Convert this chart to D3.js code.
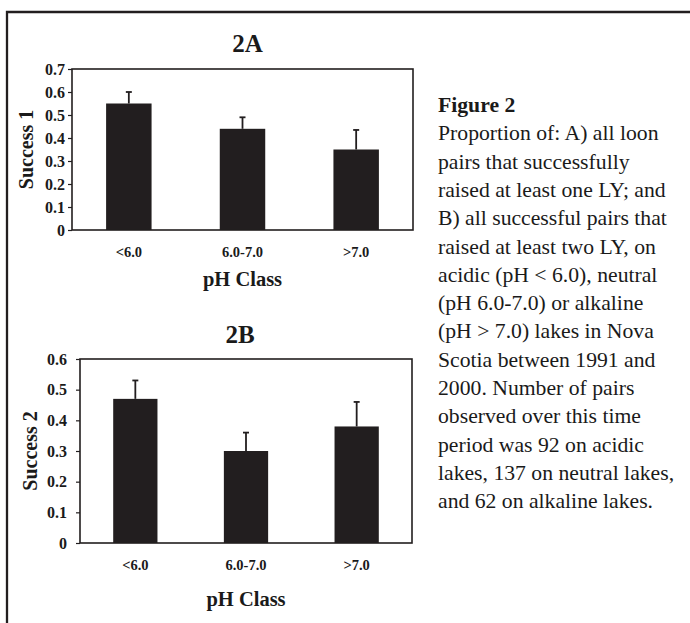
<!DOCTYPE html>
<html>
<head>
<meta charset="utf-8">
<script src="https://cdn.jsdelivr.net/npm/d3@7"></script>
<style>
  html, body { margin: 0; padding: 0; background: #fff; }
  svg { display: block; }
  text { font-family: "Liberation Serif", "Times New Roman", serif; fill: #1a1a1a; }
</style>
</head>
<body>
<svg id="fig" width="690" height="623"></svg>
<script>
// pH classes on the x axis
const categories = ["<6.0", "6.0-7.0", ">7.0"];

// 2A: proportion of pairs raising at least one LY
const success1 = [0.55, 0.44, 0.35];
const error1 = [0.05, 0.05, 0.085];
const ticks1 = [0, 0.1, 0.2, 0.3, 0.4, 0.5, 0.6, 0.7];

// 2B: proportion of successful pairs raising at least two LY
const success2 = [0.47, 0.30, 0.38];
const error2 = [0.06, 0.06, 0.08];
const ticks2 = [0, 0.1, 0.2, 0.3, 0.4, 0.5, 0.6];

const captionTitle = "Figure 2";
const captionLines = [
  "Proportion of: A) all loon",
  "pairs that successfully",
  "raised at least one LY; and",
  "B) all successful pairs that",
  "raised at least two LY, on",
  "acidic (pH < 6.0), neutral",
  "(pH 6.0-7.0) or alkaline",
  "(pH > 7.0) lakes in Nova",
  "Scotia between 1991 and",
  "2000. Number of pairs",
  "observed over this time",
  "period was 92 on acidic",
  "lakes, 137 on neutral lakes,",
  "and 62 on alkaline lakes."
];

const svg = d3.select("#fig");
const ink = "#221e1f";

// outer frame (only top and left edges visible)
svg.append("path")
  .attr("d", "M7,623 V12 H690")
  .attr("fill", "none")
  .attr("stroke", ink)
  .attr("stroke-width", 2.3);

function drawPanel(p) {
  const g = svg.append("g");

  const x = d3.scaleBand()
    .domain(categories)
    .range([p.left, p.right])
    .paddingInner(0.6)
    .paddingOuter(0.3);

  const y = d3.scaleLinear()
    .domain([0, d3.max(p.ticks)])
    .range([p.bottom, p.top]);

  // bars
  g.selectAll("rect.bar")
    .data(p.values)
    .join("rect")
    .attr("class", "bar")
    .attr("x", (d, i) => x(categories[i]))
    .attr("width", x.bandwidth())
    .attr("y", d => y(d))
    .attr("height", d => y(0) - y(d))
    .attr("fill", ink);

  // error bars, upward only
  const cx = i => x(categories[i]) + x.bandwidth() / 2;
  g.selectAll("line.err")
    .data(p.values)
    .join("line")
    .attr("class", "err")
    .attr("x1", (d, i) => cx(i))
    .attr("x2", (d, i) => cx(i))
    .attr("y1", d => y(d))
    .attr("y2", (d, i) => y(d + p.errors[i]))
    .attr("stroke", ink)
    .attr("stroke-width", 1.8);

  g.selectAll("line.cap")
    .data(p.values)
    .join("line")
    .attr("class", "cap")
    .attr("x1", (d, i) => cx(i) - 3)
    .attr("x2", (d, i) => cx(i) + 3)
    .attr("y1", (d, i) => y(d + p.errors[i]))
    .attr("y2", (d, i) => y(d + p.errors[i]))
    .attr("stroke", ink)
    .attr("stroke-width", 1.8);

  // plot box
  g.append("rect")
    .attr("x", p.left)
    .attr("y", p.top)
    .attr("width", p.right - p.left)
    .attr("height", p.bottom - p.top)
    .attr("fill", "none")
    .attr("stroke", ink)
    .attr("stroke-width", 1.6);

  // y axis
  const yAxis = g.append("g")
    .attr("transform", `translate(${p.left},0)`)
    .call(d3.axisLeft(y)
      .tickValues(p.ticks)
      .tickSize(4)
      .tickPadding(p.tickPad)
      .tickFormat(d => d === 0 ? "0" : d.toFixed(1)));
  yAxis.select(".domain").remove();
  yAxis.selectAll("line").attr("stroke", ink).attr("stroke-width", 1.2);
  yAxis.selectAll("text")
    .style("font-family", "Liberation Serif")
    .style("font-weight", "bold")
    .style("font-size", "16px")
    .attr("fill", "#1a1a1a");

  // x axis
  const xAxis = g.append("g")
    .attr("transform", `translate(0,${p.bottom})`)
    .call(d3.axisBottom(x).tickSize(0).tickPadding(17));
  xAxis.select(".domain").remove();
  xAxis.selectAll("text")
    .style("font-family", "Liberation Serif")
    .style("font-weight", "bold")
    .style("font-size", "14.5px")
    .attr("fill", "#1a1a1a");

  // panel title
  g.append("text")
    .attr("x", p.titleX)
    .attr("y", p.titleY)
    .attr("text-anchor", "middle")
    .style("font-weight", "bold")
    .style("font-size", "25px")
    .text(p.title);

  // y label
  g.append("text")
    .attr("transform", `translate(${p.ylabX},${(p.top + p.bottom) / 2}) rotate(-90)`)
    .attr("text-anchor", "middle")
    .style("font-weight", "bold")
    .style("font-size", "20px")
    .text(p.ylabel);

  // x label
  g.append("text")
    .attr("x", (p.left + p.right) / 2)
    .attr("y", p.xlabY)
    .attr("text-anchor", "middle")
    .style("font-weight", "bold")
    .style("font-size", "20.5px")
    .text("pH Class");
}

drawPanel({
  values: success1, errors: error1, ticks: ticks1,
  left: 72, right: 413, top: 69, bottom: 230, tickPad: 3,
  title: "2A", titleX: 247.5, titleY: 52,
  ylabel: "Success 1", ylabX: 33, xlabY: 286
});

drawPanel({
  values: success2, errors: error2, ticks: ticks2,
  left: 80, right: 412, top: 359, bottom: 543, tickPad: 9,
  title: "2B", titleX: 240, titleY: 343,
  ylabel: "Success 2", ylabX: 37, xlabY: 606
});

// caption
const cap = svg.append("text")
  .attr("x", 438)
  .attr("y", 112)
  .style("font-size", "21.7px");

cap.append("tspan")
  .attr("x", 438)
  .style("font-weight", "bold")
  .text(captionTitle);

captionLines.forEach(line => {
  cap.append("tspan")
    .attr("x", 438)
    .attr("dy", 28.3)
    .text(line);
});
</script>
</body>
</html>
